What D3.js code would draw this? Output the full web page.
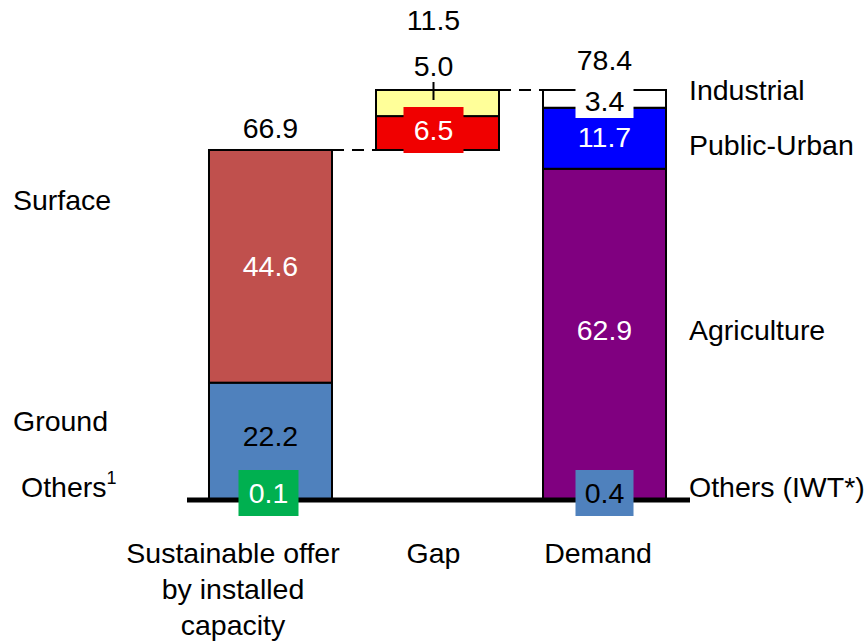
<!DOCTYPE html>
<html><head><meta charset="utf-8">
<script src="https://cdn.jsdelivr.net/npm/d3@7"></script>
<style>body{margin:0;background:#fff}svg text{font-family:Arial,"Liberation Sans",sans-serif}</style>
</head><body>
<svg id="c" width="867" height="641"></svg>
<script>
const categories = ["Sustainable offer by installed capacity", "Gap", "Demand"];
const categoryLines = [["Sustainable offer","by installed","capacity"],["Gap"],["Demand"]];
const offerSegments = ["Others¹", "Ground", "Surface"];
const offerValues = [0.1, 22.2, 44.6];
const gapSegments = ["Red gap", "Yellow gap"];
const gapValues = [6.5, 5.0];
const demandSegments = ["Others (IWT*)", "Agriculture", "Public-Urban", "Industrial"];
const demandValues = [0.4, 62.9, 11.7, 3.4];
const totals = [66.9, 11.5, 78.4];

const svg = d3.select("#c");
const y = d3.scaleLinear().domain([0, 78.4]).range([499, 90]);
const x = d3.scaleBand().domain(categories).range([187, 688]).paddingInner(0.2635).paddingOuter(0.1317);
const bw = x.bandwidth();
const fs = 28.5;

function stack(vals, base) {
  let acc = base; return vals.map(v => { const s = {y0: acc, y1: acc + v, v}; acc += v; return s; });
}
const offer = stack(offerValues, 0);
const gap = stack(gapValues, totals[0]);
const demand = stack(demandValues, 0);

const gapColors = ["#F00000", "#FFFF99"];

function drawBar(cat, segs, colors) {
  const g = svg.append("g");
  segs.forEach((s, i) => {
    g.append("rect").attr("x", x(cat)).attr("width", bw)
      .attr("y", y(s.y1)).attr("height", y(s.y0) - y(s.y1))
      .attr("fill", colors[i]).attr("stroke", "#000").attr("stroke-width", 2);
  });
}
drawBar(categories[0], [{y0:0,y1:offer[1].y1}, offer[2]], ["#4F81BD", "#C0504D"]);
drawBar(categories[1], gap, gapColors);
drawBar(categories[2], [{y0:0,y1:demand[1].y1}, demand[2], demand[3]], ["#800080", "#0000FF", "#FFFFFF"]);

// dashed connectors
svg.append("line").attr("x1", x(categories[0]) + bw).attr("x2", x(categories[1]))
  .attr("y1", y(totals[0])).attr("y2", y(totals[0]))
  .attr("stroke", "#000").attr("stroke-width", 2).attr("stroke-dasharray", "12,8");
svg.append("line").attr("x1", x(categories[1]) + bw).attr("x2", x(categories[2]))
  .attr("y1", y(totals[2])).attr("y2", y(totals[2]))
  .attr("stroke", "#000").attr("stroke-width", 2).attr("stroke-dasharray", "12,8");

// baseline
svg.append("line").attr("x1", 187).attr("x2", 690).attr("y1", y(0)+1).attr("y2", y(0)+1)
  .attr("stroke", "#000").attr("stroke-width", 5);

const cx = c => x(c) + bw / 2;
function txt(t, xx, yy, fill, anchor) {
  return svg.append("text").attr("x", xx).attr("y", yy).attr("font-size", fs)
    .attr("text-anchor", anchor || "middle").attr("dominant-baseline", "central")
    .attr("fill", fill || "#000").text(t);
}
function boxLabel(t, xx, yy, w, h, bg, fg) {
  svg.append("rect").attr("x", xx - w/2).attr("y", yy - h/2).attr("width", w).attr("height", h).attr("fill", bg);
  txt(t, xx, yy, fg);
}

// Offer labels
txt(totals[0].toFixed(1), cx(categories[0]), y(totals[0]) - 22);
txt(offerValues[2].toFixed(1), cx(categories[0]), (y(offer[2].y0) + y(offer[2].y1)) / 2, "#fff");
txt(offerValues[1].toFixed(1), cx(categories[0]), y(offer[1].y1) + 53);
boxLabel(offerValues[0].toFixed(1), cx(categories[0]) - 2, 493, 60, 46, "#00B050", "#fff");

// Gap labels
txt(totals[1].toFixed(1), cx(categories[1]) - 4, 20);
txt(gapValues[1].toFixed(1), cx(categories[1]) - 4, 66);
svg.append("line").attr("x1", cx(categories[1]) - 4).attr("x2", cx(categories[1]) - 4)
  .attr("y1", 82).attr("y2", y(gap[1].y1) + 10).attr("stroke", "#000").attr("stroke-width", 2);
boxLabel(gapValues[0].toFixed(1), cx(categories[1]) - 4, 130, 60, 46, "#F00000", "#fff");

// Demand labels
txt(totals[2].toFixed(1), cx(categories[2]), 60);
boxLabel(demandValues[3].toFixed(1), cx(categories[2]), 101, 58, 34, "#FFFFFF", "#000");
txt(demandValues[2].toFixed(1), cx(categories[2]), 137, "#fff");
txt(demandValues[1].toFixed(1), cx(categories[2]), 330, "#fff");
boxLabel(demandValues[0].toFixed(1), cx(categories[2]), 493, 58, 46, "#4F81BD", "#000");

// Side labels
txt("Surface", 13, 200, "#000", "start");
txt("Ground", 13, 421, "#000", "start");
const o = txt("Others", 21, 487, "#000", "start");
o.append("tspan").attr("font-size", 18).attr("dy", -9).text("1");
txt("Industrial", 689, 90, "#000", "start");
txt("Public-Urban", 689, 145, "#000", "start");
txt("Agriculture", 689, 330, "#000", "start");
txt("Others (IWT*)", 689, 487, "#000", "start");

// Category labels
const catOffsets = [-37.5, -4, -6.5];
categoryLines.forEach((lines, i) => {
  lines.forEach((l, j) => txt(l, cx(categories[i]) + catOffsets[i], 553 + j * 36));
});
</script>
</body></html>
